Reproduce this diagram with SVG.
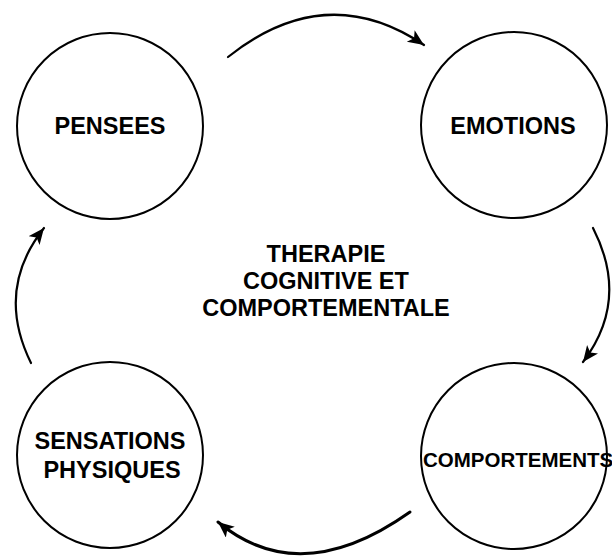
<svg xmlns="http://www.w3.org/2000/svg" width="612" height="556" viewBox="0 0 612 556">
  <style>
    .node circle { fill: #ffffff; stroke: #000000; stroke-width: 2; }
    .label { font-family: "Liberation Sans", Arial, sans-serif; font-weight: bold; fill: #000000; text-anchor: middle; }
    .arrow { fill: none; stroke: #000000; stroke-width: 2.2; stroke-linecap: round; marker-end: url(#head); }
  </style>
  <defs>
    <marker id="head" markerUnits="userSpaceOnUse" markerWidth="18" markerHeight="16" refX="16" refY="7" orient="auto">
      <path d="M0,0 L16,7 L0,14 L4,7 Z" fill="#000000"/>
    </marker>
  </defs>
  <rect width="612" height="556" fill="#ffffff"/>

  <g id="connectors">
    <path class="arrow" d="M228,57 Q326,-21 424,45"/>
    <path class="arrow" d="M593,228 Q630,300 583,362"/>
    <path class="arrow" style="stroke-width:3" d="M410,512 Q300,590 218,522"/>
    <path class="arrow" d="M31,363 Q-5,290 44,228"/>
  </g>

  <g id="pensees" class="node">
    <circle cx="110" cy="126" r="93"/>
    <text class="label" x="110" y="134" font-size="23.5">PENSEES</text>
  </g>

  <g id="emotions" class="node">
    <circle cx="514" cy="125" r="93"/>
    <text class="label" x="513" y="134" font-size="23.5">EMOTIONS</text>
  </g>

  <g id="comportements" class="node">
    <circle cx="514" cy="456" r="93"/>
    <text class="label" x="423" y="467" font-size="20.5" style="text-anchor:start">COMPORTEMENTS</text>
  </g>

  <g id="sensations" class="node">
    <circle cx="110" cy="455" r="93"/>
    <text class="label" x="110" y="449" font-size="23.5">SENSATIONS</text>
    <text class="label" x="112" y="478" font-size="23.5">PHYSIQUES</text>
  </g>

  <g id="titre">
    <text class="label" x="326" y="262" font-size="23.5">THERAPIE</text>
    <text class="label" x="326" y="289" font-size="23.5">COGNITIVE ET</text>
    <text class="label" x="326" y="316" font-size="23.5">COMPORTEMENTALE</text>
  </g>
</svg>
